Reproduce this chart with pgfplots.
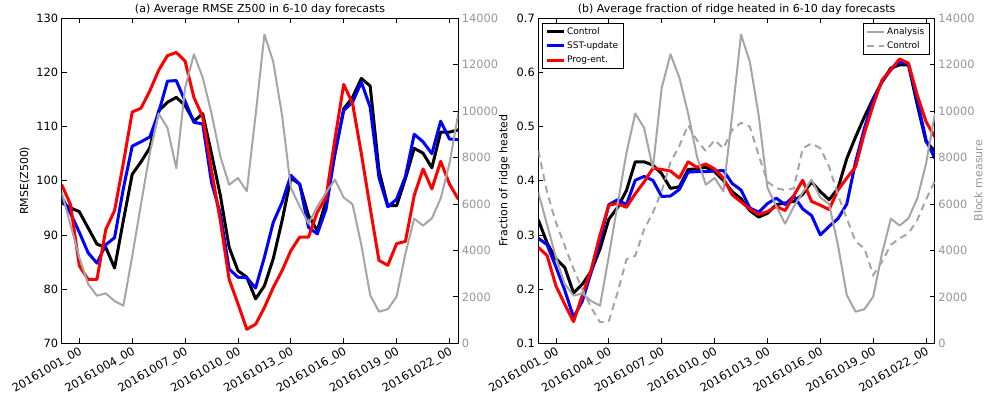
\documentclass[border=0pt]{standalone}
\usepackage{pgfplots}
\usepackage{pgfplotstable}
\usepackage{fontspec}
\setmainfont{DejaVu Sans}
\pgfplotsset{compat=1.18}

\definecolor{anagray}{RGB}{165,165,165}
\definecolor{ticgray}{RGB}{150,150,150}
\definecolor{mplblue}{RGB}{0,0,255}
\definecolor{mplred}{RGB}{255,0,0}

% RMSE of Z500 (left axis) and analysis block measure (right axis)
\pgfplotstableread{
x     ctrl  sst   prog  ana
-1.0  96.0  97.0  99.3  6500
-0.5  95.0  94.0  95.6  5100
0.0   94.3  90.5  84.3  3700
0.5   91.3  86.7  81.8  2550
1.0   88.3  84.8  81.8  2050
1.5   87.7  88.2  91.0  2150
2.0   83.9  89.5  94.5  1820
2.5   92.7  98.6  103.3 1620
3.0   101.2 106.4 112.7 3750
3.5   103.5 107.2 113.4 6000
4.0   106.1 108.1 116.6 8200
4.5   112.9 112.6 120.4 9900
5.0   114.5 118.4 123.1 9280
5.5   115.4 118.5 123.7 7540
6.0   113.9 114.7 122.1 11000
6.5   111.0 110.8 115.4 12450
7.0   112.4 110.5 111.8 11450
7.5   105.0 99.7  101.9 9900
8.0   97.3  93.9  92.6  8050
8.5   87.7  83.7  81.8  6830
9.0   83.4  82.2  77.3  7120
9.5   82.2  82.1  72.6  6550
10.0  78.2  80.2  73.5  9830
10.5  80.6  85.9  76.6  13300
11.0  85.6  92.3  80.3  12130
11.5  92.6  96.0  83.4  9830
12.0  100.5 101.0 87.1  6700
12.5  99.4  99.4  89.6  5900
13.0  93.6  91.4  89.6  5150
13.5  90.8  90.2  94.2  5900
14.0  96.3  94.8  97.0  6500
14.5  105.0 105.0 107.7 7050
15.0  113.3 113.0 117.8 6280
15.5  115.4 114.5 114.3 5990
16.0  118.9 118.2 105.0 4230
16.5  117.5 113.6 95.0  2080
17.0  101.9 100.6 85.3  1360
17.5  95.4  95.2  84.4  1470
18.0  95.4  96.6  88.4  2010
18.5  100.4 100.8 88.8  3870
19.0  106.0 108.6 97.3  5370
19.5  105.1 107.2 102.2 5070
20.0  102.4 105.0 98.5  5385
20.5  109.0 111.0 103.6 6240
21.0  109.0 107.7 99.4  7750
21.5  109.4 107.6 96.6  9900
}\rmsetab

% fraction of ridge heated (left axis) and block measures (right axis)
\pgfplotstableread{
x     ctrl  sst   prog  ana   blk
-1.0  0.328 0.294 0.277 6500  8300
-0.5  0.285 0.282 0.262 5100  6500
0.0   0.256 0.241 0.206 3700  5200
0.5   0.240 0.198 0.172 2550  4200
1.0   0.193 0.148 0.140 2050  3200
1.5   0.209 0.178 0.189 2150  2330
2.0   0.233 0.231 0.236 1820  1540
2.5   0.274 0.290 0.300 1620  910
3.0   0.329 0.356 0.355 3750  945
3.5   0.351 0.365 0.358 6000  2200
4.0   0.382 0.356 0.351 8200  3620
4.5   0.435 0.401 0.376 9900  3770
5.0   0.435 0.408 0.398 9280  4900
5.5   0.429 0.401 0.423 7540  5630
6.0   0.413 0.371 0.421 11000 6550
6.5   0.386 0.372 0.418 12450 7800
7.0   0.389 0.384 0.405 11450 8500
7.5   0.421 0.416 0.435 9900  9400
8.0   0.422 0.417 0.425 8050  8750
8.5   0.425 0.417 0.431 6830  8280
9.0   0.417 0.418 0.422 7120  8750
9.5   0.401 0.419 0.405 6550  8400
10.0  0.380 0.395 0.374 9830  9190
10.5  0.367 0.383 0.361 13300 9500
11.0  0.345 0.350 0.348 12130 9330
11.5  0.333 0.342 0.338 9830  8110
12.0  0.340 0.358 0.343 6700  6960
12.5  0.356 0.368 0.353 5900  6680
13.0  0.359 0.356 0.345 5150  6600
13.5  0.362 0.372 0.373 5900  6680
14.0  0.375 0.348 0.401 6500  8400
14.5  0.398 0.336 0.362 7050  8610
15.0  0.380 0.300 0.355 6280  8400
15.5  0.365 0.316 0.347 5990  7610
16.0  0.386 0.330 0.383 4230  6390
16.5  0.441 0.357 0.405 2080  5380
17.0  0.481 0.435 0.426 1360  4380
17.5  0.518 0.497 0.488 1470  4090
18.0  0.552 0.549 0.540 2010  2940
18.5  0.583 0.583 0.586 3870  3520
19.0  0.608 0.605 0.605 5370  4240
19.5  0.614 0.620 0.625 5070  4520
20.0  0.614 0.615 0.617 5385  4740
20.5  0.540 0.549 0.558 6240  5310
21.0  0.472 0.475 0.509 7750  6200
21.5  0.455 0.441 0.481 9900  7000
}\ridgetab

\pgfplotsset{
  common/.style={
    scale only axis, width=396.6pt, height=325pt,
    xmin=-1, xmax=21.5,
    tick align=inside, major tick length=5pt,
    every tick/.append style={black, line width=0.8pt},
    axis line style={line width=1pt, -},
    tick label style={font=\fontsize{11.4}{13}\selectfont},
    label style={font=\fontsize{11}{13}\selectfont},
    every axis title shift=0pt,
    every axis title/.style={at={(0.5,1)}, anchor=base, yshift=5.3pt,
      font=\fontsize{11}{13}\selectfont},
    /pgf/number format/assume math mode=true,
    /pgf/number format/1000 sep={},
    scaled ticks=false,
    legend image code/.code={\draw[#1] (0pt,0pt) -- (17pt,0pt);},
    legend cell align=left,
  },
  main/.style={
    common,
    xtick={0,3,...,21},
    xticklabels={20161001\_00,20161004\_00,20161007\_00,20161010\_00,
                 20161013\_00,20161016\_00,20161019\_00,20161022\_00},
    xticklabel style={rotate=30, anchor=north east, inner sep=2pt},
    xtick pos=both, xticklabel pos=lower, ytick pos=left,
  },
  twin/.style={
    common,
    axis x line=none, axis y line*=right,
    ymin=0, ymax=14000, ytick={0,2000,...,14000},
    yticklabel style={text=ticgray},
  },
  ctl/.style={black, line width=3pt, line join=round},
  sstu/.style={mplblue, line width=3pt, line join=round},
  prog/.style={mplred, line width=3pt, line join=round},
  anal/.style={anagray, line width=2pt, line join=round},
  blkc/.style={anagray, line width=2pt, dash pattern=on 7pt off 5pt},
}

\begin{document}
\begin{tikzpicture}
\useasboundingbox (0,0) rectangle (990pt,401pt);

% (a) RMSE of Z500
\begin{axis}[main, at={(61.7pt,57.7pt)}, anchor=south west,
  ymin=70, ymax=130, ytick={70,80,...,130},
  ylabel={RMSE(Z500)},
  title={(a) Average RMSE Z500 in 6-10 day forecasts}]
\addplot[ctl]  table[x=x, y=ctrl] {\rmsetab};
\addplot[sstu] table[x=x, y=sst]  {\rmsetab};
\addplot[prog] table[x=x, y=prog] {\rmsetab};
\end{axis}
\begin{axis}[twin, at={(61.7pt,57.7pt)}, anchor=south west]
\addplot[anal] table[x=x, y=ana] {\rmsetab};
\end{axis}

% (b) fraction of ridge heated
\begin{axis}[main, at={(538.3pt,57.7pt)}, anchor=south west,
  ymin=0.1, ymax=0.7, ytick={0.1,0.2,...,0.7},
  yticklabel style={/pgf/number format/.cd, fixed, fixed zerofill, precision=1},
  ylabel={Fraction of ridge heated},
  title={(b) Average fraction of ridge heated in 6-10 day forecasts},
  legend style={at={(axis description cs:0.0085,0.986)}, anchor=north west,
    draw=black, line width=1pt, font=\fontsize{9}{11}\selectfont,
    row sep=2pt}]
\addplot[ctl]  table[x=x, y=ctrl] {\ridgetab};
\addlegendentry{Control}
\addplot[sstu] table[x=x, y=sst]  {\ridgetab};
\addlegendentry{SST-update}
\addplot[prog] table[x=x, y=prog] {\ridgetab};
\addlegendentry{Prog-ent.}
\end{axis}
\begin{axis}[twin, at={(538.3pt,57.7pt)}, anchor=south west,
  ylabel={Block measure},
  every axis y label/.style={at={(axis description cs:1.0983,0.5)},
    rotate=90, anchor=north, inner sep=0pt, text=ticgray,
    font=\fontsize{11}{13}\selectfont},
  legend style={at={(axis description cs:0.987,0.986)}, anchor=north east,
    draw=black, line width=1pt, font=\fontsize{9}{11}\selectfont,
    row sep=2pt}]
\addplot[anal] table[x=x, y=ana] {\ridgetab};
\addlegendentry{Analysis}
\addplot[blkc] table[x=x, y=blk] {\ridgetab};
\addlegendentry{Control}
\end{axis}
\end{tikzpicture}
\end{document}
